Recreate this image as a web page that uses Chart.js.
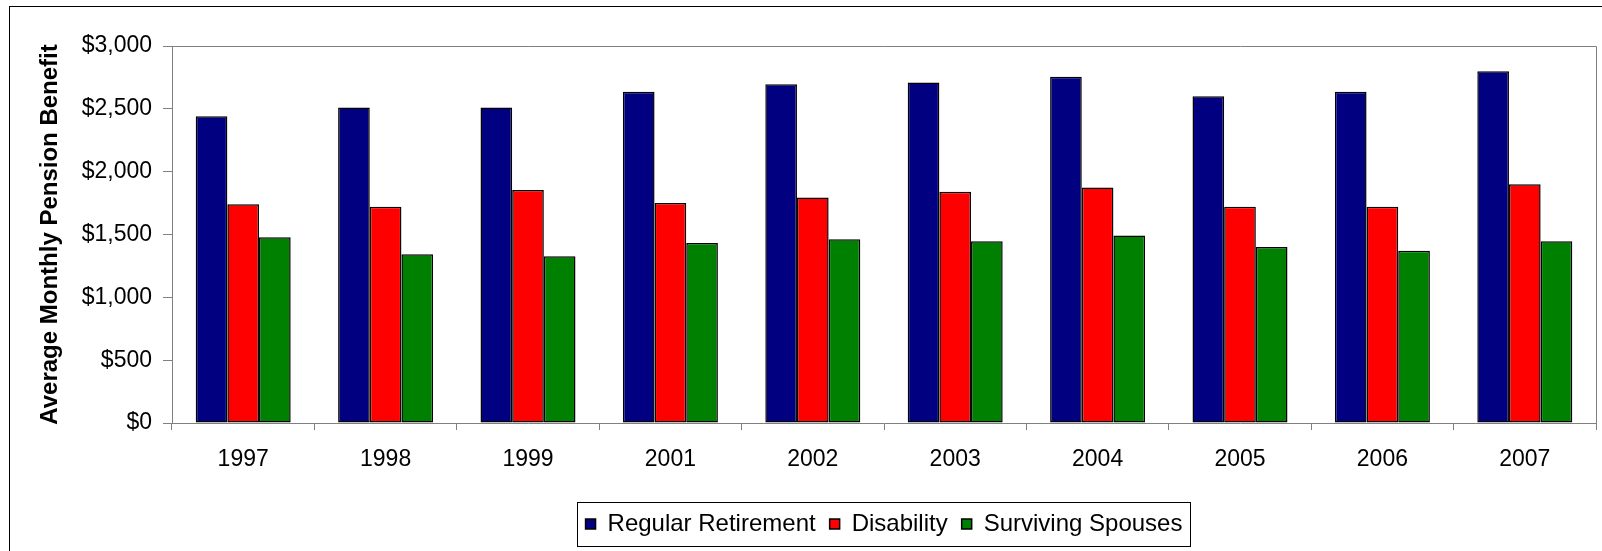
<!DOCTYPE html>
<html>
<head>
<meta charset="utf-8">
<title>Average Monthly Pension Benefit</title>
<script src="https://cdn.jsdelivr.net/npm/chart.js@4.4.1/dist/chart.umd.min.js"></script>
<style>
  html, body { margin: 0; padding: 0; background: #fff; }
  canvas { display: block; }
</style>
</head>
<body>
<canvas id="pension-chart" width="1602" height="551"></canvas>
<script>
// benefit by year, in dollars per month
const years = ['1997', '1998', '1999', '2001', '2002', '2003', '2004', '2005', '2006', '2007'];
const regularRetirement = [2440, 2510, 2510, 2635, 2695, 2710, 2755, 2600, 2635, 2800];
const disability = [1740, 1720, 1855, 1750, 1795, 1840, 1875, 1720, 1720, 1900];
const survivingSpouses = [1478, 1342, 1326, 1432, 1462, 1446, 1493, 1400, 1371, 1446];
const yTickValues = [0, 500, 1000, 1500, 2000, 2500, 3000];

const FONT = "'Liberation Sans', Arial, sans-serif";
const AXIS_GRAY = '#808080';

function money(v) {
    return '$' + Number(v).toLocaleString('en-US');
}

// white page, outer frame, plot area box and the frame round the legend
const framesPlugin = {
    id: 'frames',
    beforeDraw(chart) {
        const ctx = chart.ctx;
        ctx.save();
        ctx.fillStyle = '#fff';
        ctx.fillRect(0, 0, chart.width, chart.height);
        ctx.restore();
    },
    afterDraw(chart) {
        const { ctx, chartArea: a, legend } = chart;
        ctx.save();
        ctx.lineWidth = 1;

        ctx.strokeStyle = AXIS_GRAY;
        ctx.beginPath();
        ctx.moveTo(Math.round(a.left), Math.round(a.top) + 0.5);
        ctx.lineTo(Math.round(a.right) + 0.5, Math.round(a.top) + 0.5);
        ctx.lineTo(Math.round(a.right) + 0.5, Math.round(a.bottom));
        ctx.stroke();

        ctx.strokeStyle = '#000';
        ctx.strokeRect(9.5, 6.5, chart.width + 10, chart.height + 10);

        const boxes = legend.legendHitBoxes;
        if (boxes && boxes.length) {
            const first = boxes[0];
            const last = boxes[boxes.length - 1];
            const cy = first.top + first.height / 2;
            const left = Math.round(first.left - 9) + 0.5;
            const right = Math.round(last.left + last.width + 8) + 0.5;
            ctx.strokeRect(left, Math.round(cy - 22) + 0.5, right - left, 44);
        }
        ctx.restore();
    }
};

function makeDataset(label, values, color) {
    return {
        label: label,
        data: values,
        backgroundColor: color,
        borderColor: '#000',
        borderWidth: 1.5,
        borderSkipped: false,
        categoryPercentage: 0.667,
        barPercentage: 1.0
    };
}

const ctx = document.getElementById('pension-chart').getContext('2d');
new Chart(ctx, {
    type: 'bar',
    data: {
        labels: years,
        datasets: [
            makeDataset('Regular Retirement', regularRetirement, '#000080'),
            makeDataset('Disability', disability, '#ff0000'),
            makeDataset('Surviving Spouses', survivingSpouses, '#008000')
        ]
    },
    options: {
        responsive: false,
        animation: false,
        devicePixelRatio: 1,
        layout: {
            padding: { top: 46, right: 6, bottom: 5, left: 0 }
        },
        plugins: {
            tooltip: { enabled: false },
            legend: {
                position: 'bottom',
                fullSize: false,
                onClick: null,
                labels: {
                    boxWidth: 10,
                    boxHeight: 10,
                    padding: 14,
                    color: '#000',
                    font: { family: FONT, size: 24 }
                }
            }
        },
        scales: {
            x: {
                afterFit(scale) { scale.height = 75; },
                grid: {
                    drawOnChartArea: false,
                    drawTicks: true,
                    tickLength: 7,
                    color: AXIS_GRAY
                },
                border: { display: true, color: AXIS_GRAY, width: 1 },
                ticks: {
                    color: '#000',
                    padding: 16,
                    maxRotation: 0,
                    font: { family: FONT, size: 23 }
                }
            },
            y: {
                min: 0,
                max: 3000,
                afterFit(scale) { scale.width = 172; },
                afterBuildTicks(scale) {
                    scale.ticks = yTickValues.map(v => ({ value: v }));
                },
                grid: {
                    drawOnChartArea: false,
                    drawTicks: true,
                    tickLength: 9,
                    color: AXIS_GRAY
                },
                border: { display: true, color: AXIS_GRAY, width: 1 },
                ticks: {
                    color: '#000',
                    padding: 11,
                    font: { family: FONT, size: 23 },
                    callback: value => money(value)
                },
                title: {
                    display: true,
                    text: 'Average Monthly Pension Benefit',
                    color: '#000',
                    padding: { top: 36, bottom: 0 },
                    font: { family: FONT, size: 24, weight: 'bold' }
                }
            }
        }
    },
    plugins: [framesPlugin]
});
</script>
</body>
</html>
